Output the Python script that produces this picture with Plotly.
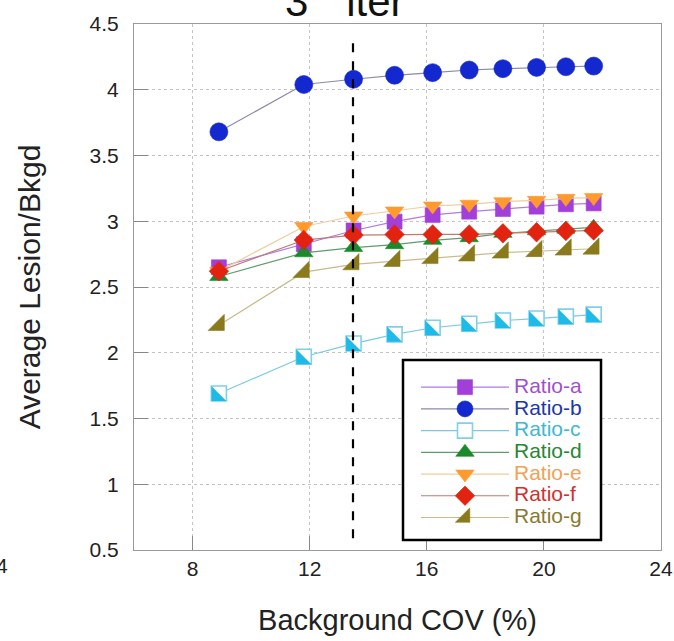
import plotly.graph_objects as go

# ---- data ----
cov = [8.9, 11.8, 13.5, 14.9, 16.2, 17.45, 18.6, 19.75, 20.75, 21.7]
ratio_a = [2.65, 2.825, 2.93, 2.997, 3.048, 3.073, 3.093, 3.111, 3.129, 3.136]
ratio_b = [3.68, 4.04, 4.08, 4.11, 4.13, 4.15, 4.16, 4.17, 4.175, 4.18]
ratio_c = [1.69, 1.97, 2.07, 2.14, 2.19, 2.22, 2.245, 2.26, 2.275, 2.29]
ratio_d = [2.58, 2.76, 2.80, 2.822, 2.855, 2.875, 2.908, 2.928, 2.94, 2.954]
ratio_e = [2.62, 2.96, 3.04, 3.078, 3.116, 3.129, 3.149, 3.159, 3.174, 3.18]
ratio_f = [2.62, 2.857, 2.895, 2.90, 2.90, 2.90, 2.908, 2.916, 2.926, 2.93]
ratio_g = [2.21, 2.613, 2.672, 2.697, 2.719, 2.739, 2.761, 2.772, 2.784, 2.791]

names = ["Ratio-a", "Ratio-b", "Ratio-c", "Ratio-d", "Ratio-e", "Ratio-f", "Ratio-g"]
series = [ratio_a, ratio_b, ratio_c, ratio_d, ratio_e, ratio_f, ratio_g]

cutoff_x = [13.48, 13.48]
cutoff_y = [0.59, 4.39]

x_ticks = [8, 12, 16, 20, 24]
y_ticks = [0.5, 1, 1.5, 2, 2.5, 3, 3.5, 4, 4.5]
x_range = [6, 24]
y_range = [0.5, 4.5]

# ---- styles ----
marker_colors = ["#a23fd9", "#1428cf", "#1fbbe8", "#1a8a2a", "#ff9a2e", "#e2230f", "#8b7a1c"]
line_colors = ["#b27ae0", "#8a8aa8", "#78cbe3", "#5f9c6c", "#f2cc9e", "#c27a72", "#c9ba8c"]
text_colors = ["#a24fd0", "#2236a8", "#41b7d6", "#2a8634", "#f0a255", "#d2302c", "#8a7a30"]
symbols = ["square", "circle", "square", "triangle-up", "triangle-down", "diamond", "triangle-se"]
sizes = [15, 18, 15, 16, 16, 15, 18]

FONT = "Liberation Sans, Arial, sans-serif"

# plot-area geometry (px)
L, T, R, B = 134, 24, 13, 91
W, H = 674, 641
PW, PH = W - L - R, H - T - B

def px_x(p):
    return (p - L) / PW
def px_y(p):
    return (H - B - p) / PH

# offset so the triangle-sw (centred on its centroid) fills the lower-left half of the square
sq = sizes[2]
tri_size = sq / 0.9
shift_px = sq / 6.0
dx = shift_px * (x_range[1] - x_range[0]) / PW
dy = shift_px * (y_range[1] - y_range[0]) / PH

fig = go.Figure()

for i, (nm, ys) in enumerate(zip(names, series)):
    if nm == "Ratio-c":
        mk = dict(symbol="square", size=sizes[i], color="white",
                  line=dict(width=1.6, color="#7fd0e8"))
    else:
        mk = dict(symbol=symbols[i], size=sizes[i], color=marker_colors[i],
                  line=dict(width=0.6, color=marker_colors[i]))
    fig.add_trace(go.Scatter(
        x=cov, y=ys, mode="lines+markers",
        name='<span style="color:%s;font-size:21px">%s</span>' % (text_colors[i], nm),
        line=dict(color=line_colors[i], width=1.2),
        marker=mk,
    ))

# filled lower-left half of the half-filled square marker (offset overlay axes)
fig.add_trace(go.Scatter(
    x=cov, y=ratio_c, mode="markers", showlegend=False, hoverinfo="skip",
    xaxis="x2", yaxis="y2",
    marker=dict(symbol="triangle-sw", size=tri_size, color=marker_colors[2], line=dict(width=0)),
))

fig.add_trace(go.Scatter(
    x=cutoff_x, y=cutoff_y, mode="lines", showlegend=False, hoverinfo="skip",
    xaxis="x3", yaxis="y3",
    line=dict(color="black", width=2.2, dash="dash"),
))

fig.update_layout(
    width=W, height=H,
    margin=dict(l=L, r=R, t=T, b=B, autoexpand=False),
    paper_bgcolor="white", plot_bgcolor="white",
    font=dict(family=FONT, color="#222222"),
    showlegend=True,
    legend=dict(
        x=px_x(416), y=px_y(357), xanchor="left", yanchor="top",
        bgcolor="rgba(0,0,0,0)", borderwidth=0,
        font=dict(size=14.4, family=FONT),
        itemwidth=88,
        title=dict(text=" ", font=dict(size=11)),
        tracegroupgap=0,
    ),
    shapes=[dict(type="rect", xref="paper", yref="paper",
                 x0=px_x(403), x1=px_x(601), y0=px_y(540), y1=px_y(360),
                 fillcolor="white", line=dict(color="black", width=2.5), layer="above")],
    xaxis=dict(
        range=x_range, tickvals=x_ticks, ticktext=[str(v) for v in x_ticks],
        automargin=False,
        showgrid=True, gridcolor="#c4c4c4", griddash="dot", gridwidth=1,
        showline=True, mirror=True, linecolor="#9a9a9a", linewidth=1,
        ticks="inside", ticklen=14, tickcolor="#888888",
        tickfont=dict(size=21, family=FONT, color="#222"),
        zeroline=False,
        title=dict(text="Background COV (%)", font=dict(size=29, family=FONT, color="#222"),
                   standoff=30),
    ),
    yaxis=dict(
        range=y_range, tickvals=y_ticks, ticktext=[("%g" % v) for v in y_ticks],
        automargin=False,
        showgrid=True, gridcolor="#c4c4c4", griddash="dot", gridwidth=1,
        showline=True, mirror=True, linecolor="#9a9a9a", linewidth=1,
        ticks="inside", ticklen=14, tickcolor="#888888",
        ticklabelstandoff=10,
        tickfont=dict(size=21, family=FONT, color="#222"),
        zeroline=False,
        title=dict(text="Average Lesion/Bkgd", font=dict(size=30, family=FONT, color="#222"),
                   standoff=40),
    ),
    xaxis2=dict(overlaying="x", range=[x_range[0] + dx, x_range[1] + dx], visible=False),
    yaxis2=dict(overlaying="y", range=[y_range[0] + dy, y_range[1] + dy], visible=False),
    xaxis3=dict(overlaying="x", range=x_range, visible=False),
    yaxis3=dict(overlaying="y", range=y_range, visible=False),
    annotations=[
        dict(text="3<sup>rd</sup> iter", xref="paper", yref="paper",
             x=0.40, y=1.05, xanchor="center", yanchor="middle",
             showarrow=False, font=dict(size=42, family=FONT, color="#111")),
        dict(text="4", xref="paper", yref="paper", x=-0.25, y=-0.030,
             xanchor="center", yanchor="middle", showarrow=False,
             font=dict(size=21, family=FONT, color="#222")),
    ],
)

fig.write_html("out.html")
